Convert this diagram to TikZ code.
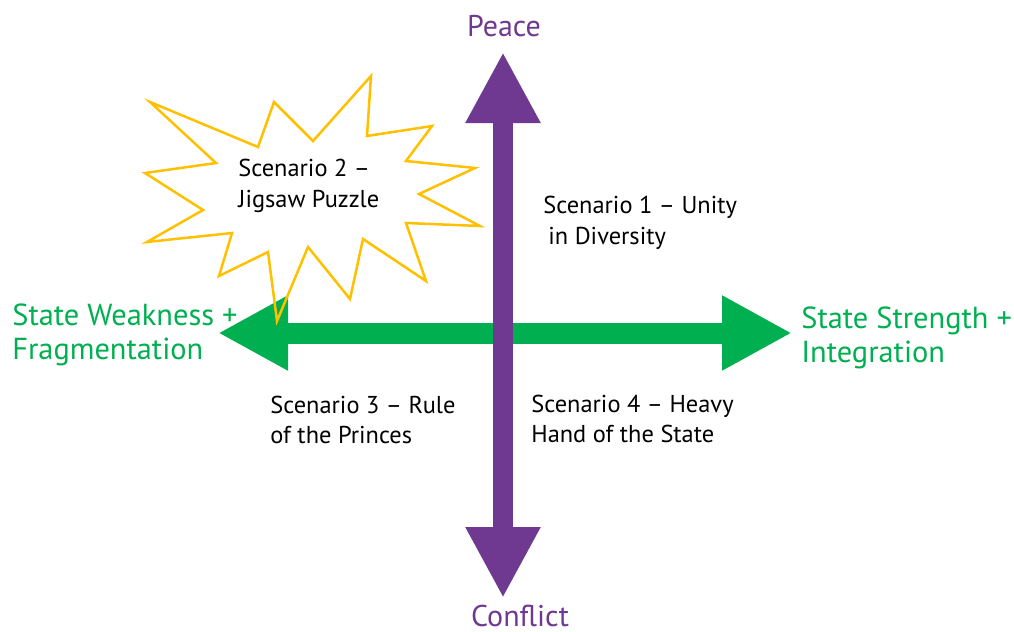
\documentclass[tikz,border=0pt]{standalone}
\usepackage{fontspec}
\setmainfont{PT Sans}
\usetikzlibrary{arrows.meta}
\definecolor{axispurple}{RGB}{111,57,146}
\definecolor{axisgreen}{RGB}{0,176,80}
\definecolor{stargold}{RGB}{255,192,0}

\begin{document}
\begin{tikzpicture} [x = 0.5pt, y = -0.5pt,
  hbar/.style = {axisgreen, line width = 10.5pt, arrows = {Triangle[length = 35pt, width = 35pt]-Triangle[length = 35pt, width = 35pt]}},
  vbar/.style = {axispurple, line width = 10pt, arrows = {Triangle[length = 35.5pt, width = 35pt]-Triangle[length = 35.5pt, width = 35pt]}},
  pole/.style = {axispurple, font = \fontsize{15}{17}\selectfont, inner sep = 0pt, anchor = base},
  side/.style = {axisgreen, font = \fontsize{15.2}{17.2}\selectfont, align = left, inner sep = 0pt, anchor = west},
  scen/.style = {font = \fontsize{12.2}{15.25}\selectfont, align = left, inner sep = 0pt, anchor = west}]
\useasboundingbox (0,0) rectangle (1014,632);

\coordinate (w) at (218,333);
\coordinate (e) at (792,333);
\coordinate (n) at (503,52);
\coordinate (s) at (503,598);

\node[pole] (peace) at (504,36) {Peace};
\node[pole] (conflict) at (520,626) {Conflict};
\node[side] (weak) at (12,335) {State Weakness +\\Fragmentation};
\node[side] (strong) at (801,338) {State Strength +\\Integration};

\draw[hbar] (w) -- (e);
\draw[vbar] (s) -- (n);

\draw[stargold, line width = 1.25pt] (150,102) -- (258,147) -- (274,102) -- (313,141) -- (371,76)
  -- (367,136) -- (432,126) -- (406,161) -- (475,168) -- (419,194) -- (480,226) -- (406,223)
  -- (426,281) -- (363,239) -- (350,299) -- (308,247) -- (277,321) -- (268,252) -- (219,276)
  -- (232,233) -- (147,242) -- (203,210) -- (145,173) -- (216,163) -- cycle;

\node[scen] (sc2) at (238,186) {Scenario 2 --\\Jigsaw Puzzle};
\node[scen] (sc1) at (543,223) {Scenario 1 -- Unity\\\hspace*{2.5pt}in Diversity};
\node[scen] (sc3) at (270,420) {Scenario 3 -- Rule\\of the Princes};
\node[scen] (sc4) at (531,419) {Scenario 4 -- Heavy\\Hand of the State};
\end{tikzpicture}
\end{document}
